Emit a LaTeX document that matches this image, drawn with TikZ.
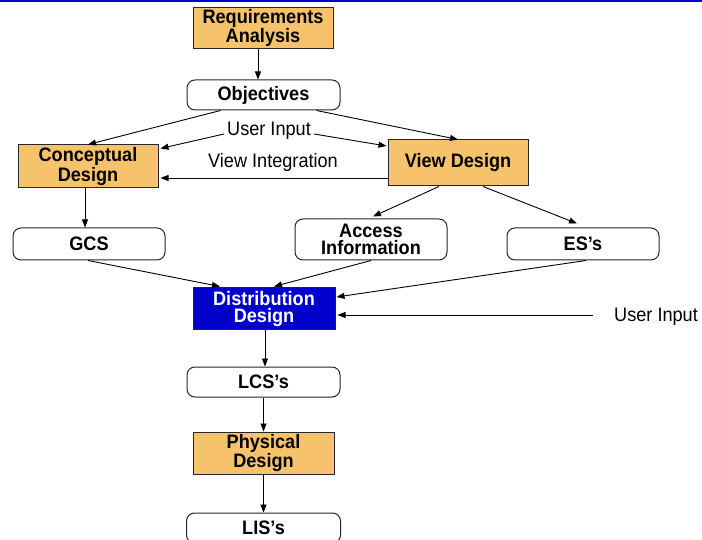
\documentclass[tikz,border=0pt]{standalone}
\usepackage{fontspec}
\setmainfont{Liberation Sans}
\newfontfamily\slidefont[FakeStretch=0.93]{Liberation Sans}
\usepackage{tikz}
\usetikzlibrary{arrows.meta,calc}
\definecolor{boxorange}{HTML}{F6C26B}
\definecolor{distblue}{HTML}{0000CC}

\begin{document}
\begin{tikzpicture}[x=1pt,y=-1pt,
    box/.style={draw=black!85, line width=1pt, fill=boxorange, minimum width=140pt, minimum height=41pt,
        inner sep=0pt, align=center, font=\slidefont\fontsize{19.5}{17.5}\selectfont\bfseries},
    rbox/.style={draw=black!85, line width=1pt, fill=white, rounded corners=8pt, minimum width=153pt,
        minimum height=30pt, inner sep=0pt, align=center, font=\slidefont\fontsize{19.5}{17.5}\selectfont\bfseries},
    arr/.style={line width=0.9pt, -{Stealth[length=8pt,width=6pt,inset=0pt]}},
    lbl/.style={inner sep=0pt, font=\slidefont\fontsize{19.5}{19.5}\selectfont}]
        \useasboundingbox (0,0) rectangle (702,540);
        %%Top rule
        \draw[distblue, line width=2pt] (0,1) to (702,1);
        %%Boxes
        \node[box] (req) at (263,28) {Requirements\\Analysis};
        \node[rbox] (obj) at (263.5,95) {Objectives};
        \node[box, minimum height=43pt] (conc) at (88,166.5) {Conceptual\\Design};
        \node[box, minimum height=46pt] (view) at (458,163) {View Design};
        \node[rbox, minimum width=152pt, minimum height=32pt] (gcs) at (89,244) {GCS};
        \node[rbox, minimum width=152pt, minimum height=41pt] (acc) at (371,239.5) {Access\\Information};
        \node[rbox, minimum width=152pt, minimum height=32pt] (es) at (583,244) {ES’s};
        \node[box, fill=distblue, text=white, minimum width=142pt, minimum height=42pt] (dist) at (264,309) {Distribution\\Design};
        \node[rbox] (lcs) at (263.5,382) {LCS’s};
        \node[box, minimum width=141pt, minimum height=42pt] (phys) at (263.5,453) {Physical\\Design};
        \node[rbox, minimum width=154pt] (lis) at (263.5,528) {LIS’s};
        %%Labels
        \node[lbl] (ui) at (269,131) {User Input};
        \node[lbl] (vi) at (273,162) {View Integration};
        \node[lbl, anchor=west] (ui2) at (614,317) {User Input};
        %%Arrows
        \draw[arr] ([xshift=-5pt]req.south) to ([xshift=-5pt]req.south |- obj.north);
        \draw[arr] ([xshift=-43pt]obj.south) to (conc.north);
        \draw[arr] ([xshift=53pt]obj.south) to (view.north);
        \draw[arr] ([xshift=-3pt,yshift=-3pt]ui.west) to ([xshift=2pt,yshift=18pt]conc.east);
        \draw[arr] ([xshift=3pt,yshift=-3pt]ui.east) to ([xshift=-1pt,yshift=17pt]view.west);
        \draw[arr] ([yshift=-15pt]view.west) to ([xshift=2pt,yshift=-11.5pt]conc.east);
        \draw[arr] ([xshift=-3pt]conc.south) to ([xshift=-4pt]gcs.north);
        \draw[arr] ([xshift=-19pt]view.south) to ([xshift=2pt,yshift=2pt]acc.north);
        \draw[arr] ([xshift=25pt]view.south) to ([xshift=-6pt,yshift=4pt]es.north);
        \draw[arr] ([xshift=-1pt]gcs.south) to ([xshift=-44pt,yshift=1pt]dist.north);
        \draw[arr] (acc.south) to ([xshift=10pt,yshift=1pt]dist.north);
        \draw[arr] ([xshift=3pt]es.south) to ([xshift=1pt,yshift=12pt]dist.east);
        \draw[arr] ([xshift=-21pt,yshift=2pt]ui2.west) to ([xshift=2pt,yshift=-6pt]dist.east);
        \draw[arr] ([xshift=1pt]dist.south) to ([xshift=1pt]dist.south |- lcs.north);
        \draw[arr] (lcs.south) to (phys.north);
        \draw[arr] (phys.south) to (phys.south |- lis.north);
    \end{tikzpicture}
\end{document}
